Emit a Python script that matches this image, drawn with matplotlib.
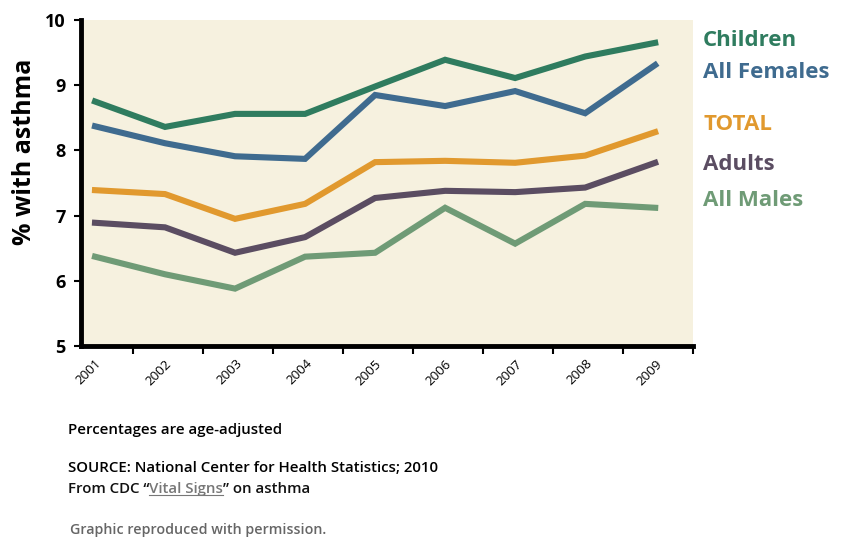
import numpy as np
import matplotlib.pyplot as plt

years = ["2001", "2002", "2003", "2004", "2005", "2006", "2007", "2008", "2009"]

children = [8.75, 8.36, 8.56, 8.56, 8.98, 9.39, 9.11, 9.44, 9.65]
all_females = [8.37, 8.11, 7.91, 7.87, 8.85, 8.68, 8.91, 8.57, 9.31]
total = [7.39, 7.33, 6.95, 7.18, 7.82, 7.84, 7.81, 7.92, 8.28]
adults = [6.89, 6.82, 6.43, 6.67, 7.27, 7.38, 7.36, 7.43, 7.81]
all_males = [6.37, 6.10, 5.88, 6.37, 6.43, 7.12, 6.57, 7.18, 7.12]

series = [
    ("Children", children, "#2f7c5f", 40),
    ("All Females", all_females, "#3f6b8f", 73),
    ("TOTAL", total, "#e1992e", 125),
    ("Adults", adults, "#5b4d62", 165),
    ("All Males", all_males, "#6f9b76", 200),
]

FONT = ["Open Sans", "DejaVu Sans"]


def main() -> None:
    fig = plt.figure(figsize=(8.57, 5.39), dpi=100)
    ax = fig.add_axes([81 / 857, 1 - 346 / 539, (693 - 81) / 857, (346 - 20) / 539])
    ax.set_facecolor("#f6f1df")

    x = np.arange(len(years))
    for name, values, color, ypix in series:
        ax.plot(x, values, color=color, lw=4.4, solid_joinstyle="miter")
        fig.text(703 / 857, 1 - ypix / 539, name, color=color, fontsize=16,
                 fontweight="bold", family=FONT, va="center", ha="left")

    ax.set_xlim(-0.2, 8.47)
    ax.set_ylim(5, 10)

    # ticks sit between the years, labels under the points
    ax.set_xticks(x + 0.54)
    ax.set_xticklabels([])
    ax.set_xticks(x, minor=True)
    ax.set_xticklabels(years, minor=True, rotation=45, fontsize=9.5, family=FONT,
                       ha="right", rotation_mode="anchor")
    ax.tick_params(axis="x", which="minor", length=0, pad=8)
    ax.tick_params(axis="x", which="major", length=6, width=1.5, direction="out")

    ax.set_yticks([5, 6, 7, 8, 9, 10])
    ax.tick_params(axis="y", length=5, width=1.5, direction="out", labelsize=13, pad=6)
    for lab in ax.get_yticklabels():
        lab.set_fontweight("bold")
        lab.set_family(FONT)

    for side in ("top", "right"):
        ax.spines[side].set_visible(False)
    for side in ("left", "bottom"):
        ax.spines[side].set_linewidth(3.5)

    fig.text(25 / 857, 1 - 152 / 539, "% with asthma", fontsize=18, fontweight="bold",
             family=FONT, rotation=90, ha="center", va="center")

    fig.text(68 / 857, 1 - 430 / 539, "Percentages are age-adjusted", fontsize=10.8,
             fontweight="semibold", family=FONT, va="center")
    fig.text(68 / 857, 1 - 468 / 539, "SOURCE: National Center for Health Statistics; 2010",
             fontsize=10.8, fontweight="semibold", family=FONT, va="center")

    # line with the grey underlined link in the middle
    renderer = fig.canvas.get_renderer()
    xpos = 68 / 857
    ypos = 1 - 489 / 539
    parts = [("From CDC \u201c", "#111111", False), ("Vital Signs", "#777777", True),
             ("\u201d on asthma", "#111111", False)]
    for txt, color, underline in parts:
        t = fig.text(xpos, ypos, txt, fontsize=10.8, fontweight="semibold", family=FONT,
                     color=color, va="center")
        bb = t.get_window_extent(renderer).transformed(fig.transFigure.inverted())
        if underline:
            fig.add_artist(plt.Line2D([bb.x0, bb.x1], [bb.y0 + 0.002, bb.y0 + 0.002],
                                      transform=fig.transFigure, color=color, lw=0.8))
        xpos = bb.x1

    fig.text(70 / 857, 1 - 530 / 539, "Graphic reproduced with permission.", fontsize=10.3,
             fontweight="semibold", family=FONT, color="#666666", va="center")

    fig.savefig("out.png", dpi=100)


if __name__ == "__main__":
    main()
